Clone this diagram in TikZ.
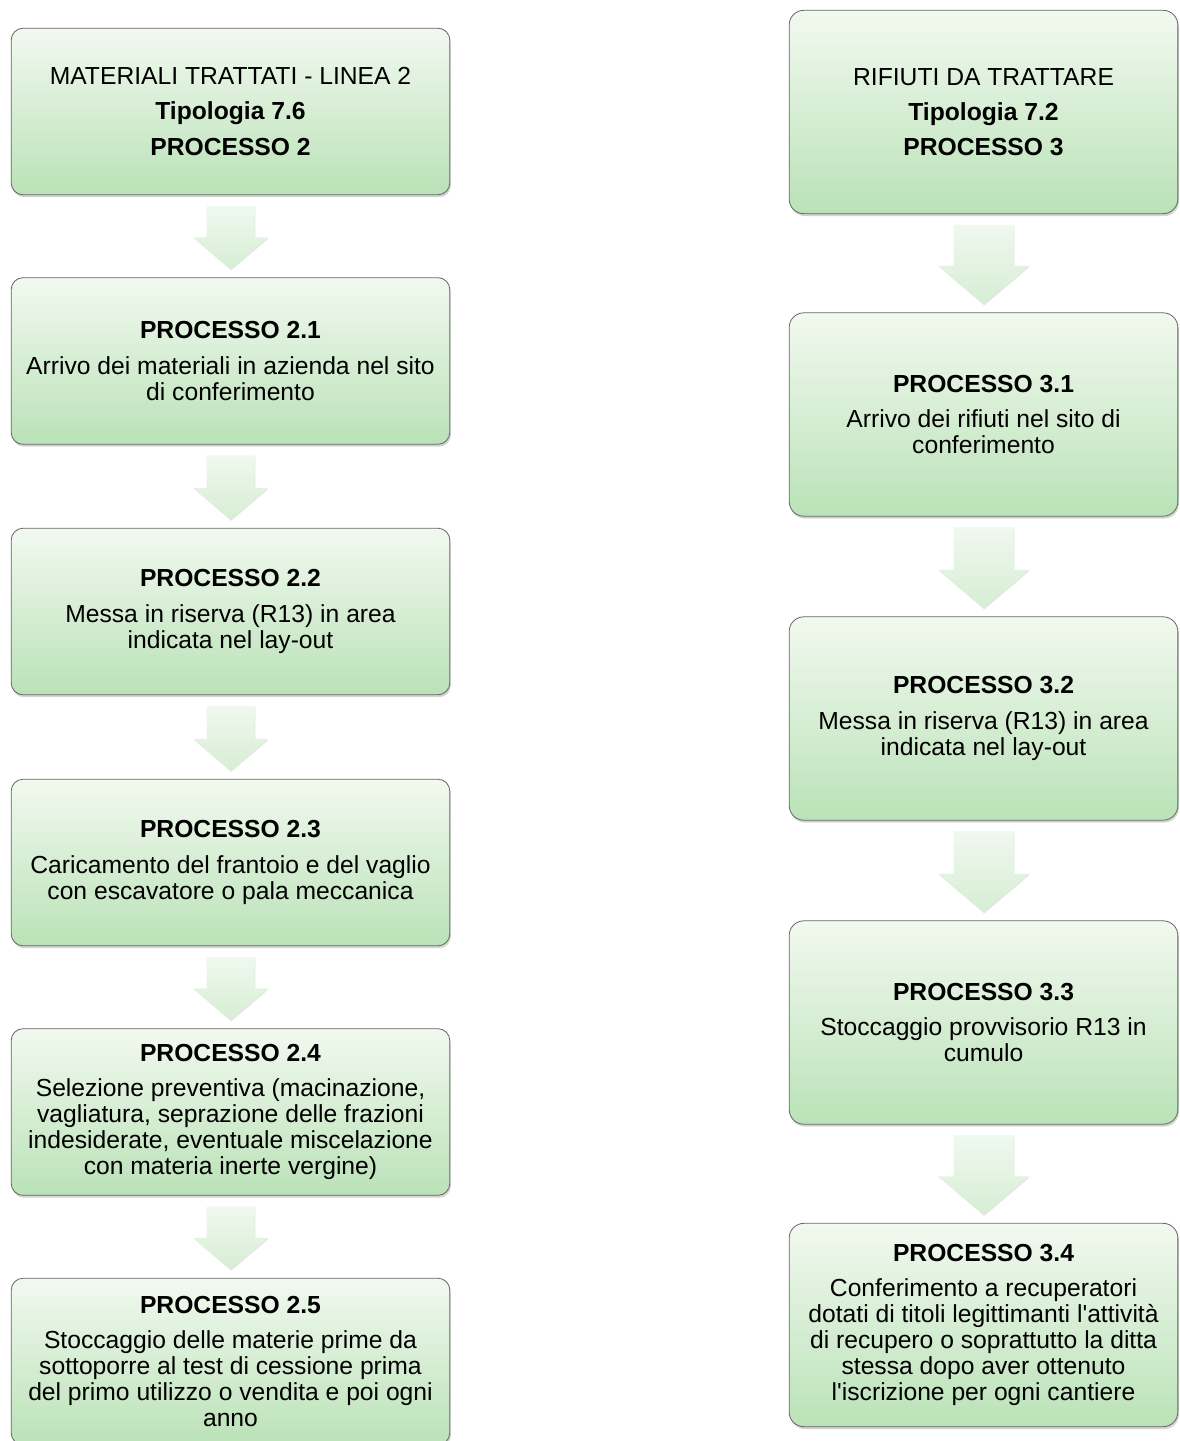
\documentclass[tikz,border=0pt]{standalone}
\usepackage{fontspec}
\setmainfont{Liberation Sans}
\usetikzlibrary{calc,shadows}
\definecolor{boxtop}{RGB}{242,249,240}
\definecolor{boxbot}{RGB}{186,226,183}
\definecolor{arrtop}{RGB}{240,248,239}
\definecolor{arrbot}{RGB}{214,238,211}
% block arrow between two boxes: from, to, half shaft, half head, head length
\newcommand{\flowdown}[5]{%
  \path[arr] let \p1=(#1.south), \p2=(#2.north) in
    (\x1-#3,\y1-8pt) -- (\x1+#3,\y1-8pt) -- (\x1+#3,\y2+6pt+#5) -- (\x1+#4,\y2+6pt+#5)
    -- (\x1,\y2+6pt) -- (\x1-#4,\y2+6pt+#5) -- (\x1-#3,\y2+6pt+#5) -- cycle;}
\begin{document}
\begin{tikzpicture}[x=0.75pt,y=-0.75pt]
\tikzstyle{box} = [draw=black!60,line width=0.6pt,rounded corners=9pt,top color=boxtop,bottom color=boxbot,
  drop shadow={opacity=0.35,shadow xshift=0.8pt,shadow yshift=-1.8pt},
  align=center,font=\fontsize{18.5}{19.5}\selectfont,inner sep=2pt]
\tikzstyle{lbox} = [box,minimum width=329pt,minimum height=125pt]
\tikzstyle{rbox} = [box,minimum width=291.5pt,minimum height=152.5pt,rounded corners=11pt]
\tikzstyle{arr} = [top color=arrtop,bottom color=arrbot,
  drop shadow={opacity=0.2,shadow xshift=0.6pt,shadow yshift=-0.8pt}]
\useasboundingbox (0,0) rectangle (1179,1441);
% linea 2
\node[lbox] (l0) at (230.5,111.5) {MATERIALI TRATTATI - LINEA 2\\[7pt]\textbf{Tipologia 7.6}\\[7pt]\textbf{PROCESSO 2}};
\node[lbox] (l1) at (230.5,361) {\textbf{PROCESSO 2.1}\\[7pt]Arrivo dei materiali in azienda nel sito\\di conferimento};
\node[lbox] (l2) at (230.5,611.5) {\textbf{PROCESSO 2.2}\\[7pt]Messa in riserva (R13) in area\\indicata nel lay-out};
\node[lbox] (l3) at (230.5,862.5) {\textbf{PROCESSO 2.3}\\[7pt]Caricamento del frantoio e del vaglio\\con escavatore o pala meccanica};
\node[lbox] (l4) at (230.5,1112) {\textbf{PROCESSO 2.4}\\[7pt]Selezione preventiva (macinazione,\\vagliatura, seprazione delle frazioni\\indesiderate, eventuale miscelazione\\con materia inerte vergine)};
\node[lbox] (l5) at (230.5,1361.5) {\textbf{PROCESSO 2.5}\\[7pt]Stoccaggio delle materie prime da\\sottoporre al test di cessione prima\\del primo utilizzo o vendita e poi ogni\\anno};
% tipologia 7.2
\node[rbox] (r0) at (983.5,112) {RIFIUTI DA TRATTARE\\[7pt]\textbf{Tipologia 7.2}\\[7pt]\textbf{PROCESSO 3}};
\node[rbox] (r1) at (983.5,414.5) {\textbf{PROCESSO 3.1}\\[7pt]Arrivo dei rifiuti nel sito di\\conferimento};
\node[rbox] (r2) at (983.5,718.5) {\textbf{PROCESSO 3.2}\\[7pt]Messa in riserva (R13) in area\\indicata nel lay-out};
\node[rbox] (r3) at (983.5,1022.5) {\textbf{PROCESSO 3.3}\\[7pt]Stoccaggio provvisorio R13 in\\cumulo};
\node[rbox] (r4) at (983.5,1325) {\textbf{PROCESSO 3.4}\\[7pt]Conferimento a recuperatori\\dotati di titoli legittimanti l\textquotesingle attività\\di recupero o soprattutto la ditta\\stessa dopo aver ottenuto\\l\textquotesingle iscrizione per ogni cantiere};
% frecce
\flowdown{l0}{l1}{18pt}{28pt}{24pt}
\flowdown{l1}{l2}{18pt}{28pt}{24pt}
\flowdown{l2}{l3}{18pt}{28pt}{24pt}
\flowdown{l3}{l4}{18pt}{28pt}{24pt}
\flowdown{l4}{l5}{18pt}{28pt}{24pt}
\flowdown{r0}{r1}{22.5pt}{34pt}{29pt}
\flowdown{r1}{r2}{22.5pt}{34pt}{29pt}
\flowdown{r2}{r3}{22.5pt}{34pt}{29pt}
\flowdown{r3}{r4}{22.5pt}{34pt}{29pt}
\end{tikzpicture}
\end{document}
